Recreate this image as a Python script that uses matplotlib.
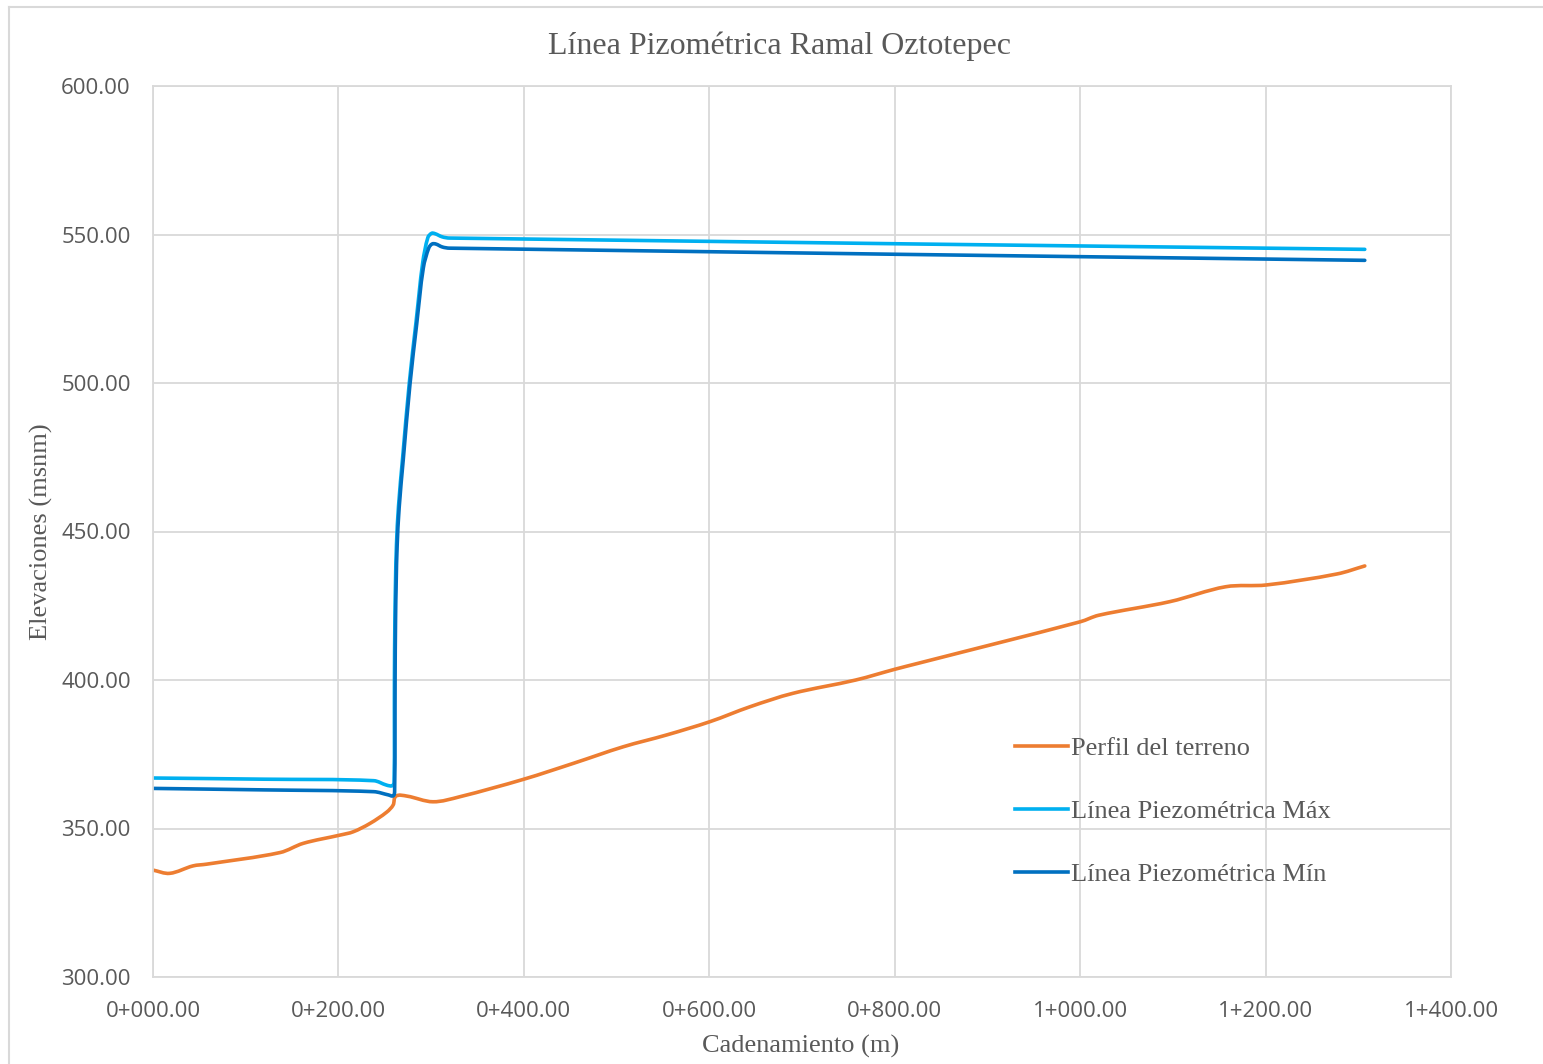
import numpy as np
import matplotlib.pyplot as plt
from matplotlib.lines import Line2D
from matplotlib.path import Path
from matplotlib.patches import PathPatch
from matplotlib.ticker import FuncFormatter, MultipleLocator

# Perfil del terreno (cadenamiento en m, elevacion en msnm)
terreno_x = [0, 18, 43, 58, 137, 162, 202, 216, 234, 252, 259, 262, 274, 302, 331,
             400, 454, 507, 554, 601, 644, 690, 758, 800, 825, 1000, 1020,
             1097, 1157, 1201, 1277, 1307]
terreno_y = [336.0, 334.9, 337.4, 338.0, 341.9, 345.0, 347.8, 348.9, 351.7, 355.5,
             357.9, 360.9, 360.9, 359.0, 360.7, 366.6, 372.0, 377.5, 381.5, 386.0,
             391.0, 395.5, 400.0, 403.6, 405.6, 419.6, 421.8, 426.4, 431.4,
             432.0, 435.7, 438.4]

# Linea piezometrica maxima
pmax_x = [0, 120, 238, 252, 258, 260.0, 260.4, 260.9, 261.6, 262.6, 264.8, 269.3,
          276.5, 283.7, 290.9, 296.5, 300.5, 304, 312, 320, 1307]
pmax_y = [367.0, 366.6, 366.1, 364.6, 364.4, 365.5, 400.0, 420.0, 433.5, 445.5,
          458.5, 475.0, 500.2, 520.5, 540.5, 549.0, 550.4, 550.3, 549.2, 548.8, 545.0]

# Linea piezometrica minima
pmin_x = [0, 120, 238, 254, 259, 260.6, 261.1, 261.6, 262.3, 263.3, 265.5, 270.0,
          277.2, 284.4, 291.6, 297.5, 301, 305, 312, 320, 1307]
pmin_y = [363.5, 363.0, 362.4, 361.3, 361.0, 362.5, 400.0, 420.0, 433.0, 445.0,
          458.0, 474.5, 499.7, 519.8, 538.8, 545.5, 546.8, 546.8, 545.8, 545.4, 541.3]

NARANJA = '#ED7D31'
AZUL_CLARO = '#00B0F0'
AZUL = '#0070C0'
GRIS_TXT = '#595959'
GRIS_GRID = '#D9D9D9'
LW = 2.6


def linea_suave(ax, xs, ys, color):
    """Curva suavizada por los puntos: Bezier cubica con tangentes tipo
    Catmull-Rom y asas limitadas a 1/3 de cada tramo (sin sobrepasos)."""
    # trabajar en unidades proporcionales a pixeles para que las tangentes
    # no dependan de la escala de cada eje
    sx = ax.bbox.width / np.diff(ax.get_xlim())[0]
    sy = ax.bbox.height / np.diff(ax.get_ylim())[0]
    p = np.column_stack([np.asarray(xs) * sx, np.asarray(ys) * sy])
    n = len(p)
    tang = np.zeros_like(p)
    for i in range(n):
        d = p[min(i + 1, n - 1)] - p[max(i - 1, 0)]
        tang[i] = d / np.hypot(*d)
    verts = [p[0]]
    codes = [Path.MOVETO]
    for i in range(n - 1):
        L = np.hypot(*(p[i + 1] - p[i])) / 3
        verts += [p[i] + tang[i] * L, p[i + 1] - tang[i + 1] * L, p[i + 1]]
        codes += [Path.CURVE4] * 3
    verts = np.array(verts) / [sx, sy]
    ax.add_patch(PathPatch(Path(verts, codes), fill=False, edgecolor=color, lw=LW,
                           joinstyle='round', capstyle='round'))


fig = plt.figure(figsize=(15.43, 10.64), dpi=100)
ax = fig.add_axes([153 / 1543, 1 - 977 / 1064, 1298 / 1543, 891 / 1064])
ax.set_xlim(0, 1400)
ax.set_ylim(300, 600)

series = [(terreno_x, terreno_y, NARANJA, 'Perfil del terreno'),
          (pmax_x, pmax_y, AZUL_CLARO, 'Línea Piezométrica Máx'),
          (pmin_x, pmin_y, AZUL, 'Línea Piezométrica Mín')]
handles = []
for xs, ys, col, nombre in series:
    linea_suave(ax, xs, ys, col)
    handles.append(Line2D([], [], color=col, lw=LW, label=nombre))

ax.xaxis.set_major_locator(MultipleLocator(200))
ax.yaxis.set_major_locator(MultipleLocator(50))


def fmt_cadenamiento(v, pos):
    km = int(v // 1000)
    return f'{km}+{v - km * 1000:06.2f}'


ax.xaxis.set_major_formatter(FuncFormatter(fmt_cadenamiento))
ax.yaxis.set_major_formatter(FuncFormatter(lambda v, p: f'{v:.2f}'))

ax.grid(True, color=GRIS_GRID, lw=1.3)
ax.set_axisbelow(True)
for s in ax.spines.values():
    s.set_color(GRIS_GRID)
    s.set_linewidth(1.3)
ax.tick_params(length=0, labelsize=16, labelcolor=GRIS_TXT)
ax.tick_params(axis='y', pad=16)
ax.tick_params(axis='x', pad=17)
for lbl in ax.get_xticklabels() + ax.get_yticklabels():
    lbl.set_family('Open Sans')

serif = 'Liberation Serif'
fig.text(779 / 1543, 1 - 46 / 1064, 'Línea Pizométrica Ramal Oztotepec', ha='center',
         va='center', fontsize=23, color=GRIS_TXT, family=serif)
fig.text(801 / 1543, 1 - 1046 / 1064, 'Cadenamiento (m)', ha='center', va='center',
         fontsize=19, color=GRIS_TXT, family=serif)
fig.text(41 / 1543, 1 - 532 / 1064, 'Elevaciones (msnm)', ha='center', va='center',
         rotation=90, fontsize=19, color=GRIS_TXT, family=serif)

leg = ax.legend(handles=handles, loc='upper left',
                bbox_to_anchor=((991 - 153) / 1298, (977 - 713) / 891),
                frameon=False, handlelength=2.0, handletextpad=0.15, labelspacing=1.5,
                prop={'family': serif, 'size': 19})
for t in leg.get_texts():
    t.set_color(GRIS_TXT)

# marco exterior del grafico
fig.add_artist(Line2D([9 / 1543, 1], [1 - 7 / 1064, 1 - 7 / 1064], color=GRIS_GRID, lw=1.5))
fig.add_artist(Line2D([9 / 1543, 9 / 1543], [0, 1 - 7 / 1064], color=GRIS_GRID, lw=1.5))

fig.savefig('out.png', dpi=100, facecolor='white')
